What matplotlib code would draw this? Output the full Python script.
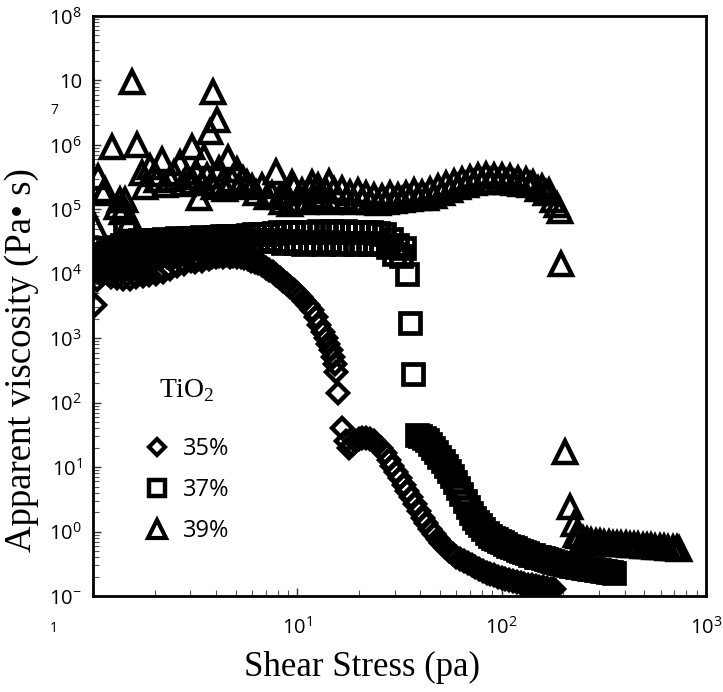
import matplotlib
matplotlib.use("Agg")
import matplotlib.pyplot as plt
from matplotlib.lines import Line2D
from matplotlib.font_manager import FontProperties
from matplotlib.ticker import LogLocator, NullFormatter

# ---------------- data ----------------
# 35 % TiO2 (diamonds)
x35 = [1.02, 1.05, 1.08, 1.11, 1.15, 1.19, 1.23, 1.27, 1.31, 1.36, 1.41, 1.46, 1.51, 1.57,
       1.63, 1.69, 1.75, 1.82, 1.89, 1.96, 2.04, 2.12, 2.20, 2.29, 2.38, 2.48, 2.58, 2.68,
       2.79, 2.90, 3.02, 3.14, 3.27, 3.40, 3.54, 3.68, 3.83, 3.99, 4.15, 4.32, 4.50, 4.68,
       4.87, 5.07, 5.28, 5.49, 5.72, 5.95, 6.19, 6.45, 6.71, 6.99, 7.27, 7.57, 7.88, 8.20,
       8.54, 8.89, 9.25, 9.63, 10.0, 10.4, 10.8, 11.3, 11.8, 12.3, 12.8, 13.3, 13.8, 14.2,
       14.6, 15.0, 15.3, 15.5, 15.8, 16.6, 17.3,
       17.9, 18.5, 19.2, 20.0, 20.8, 21.7, 22.6, 23.6, 24.6, 25.7, 26.8, 28.0, 29.2, 30.5,
       31.8, 33.2, 34.6, 36.1, 37.7, 39.3, 41.0, 42.8, 44.7, 46.6, 48.6, 50.7, 52.9, 55.2,
       57.6, 60.1, 62.7, 65.4, 68.3, 71.2, 74.3, 77.5, 80.9, 84.4, 88.1, 91.9, 95.9, 100,
       104, 109, 114, 119, 124, 129, 135, 141, 147, 153, 160, 167, 174, 181]
y35 = [3.3e3, 8.0e3, 1.1e4, 9.5e3, 1.2e4, 1.0e4, 9.0e3, 1.1e4, 8.5e3, 1.4e4, 8.2e3, 1.5e4,
       8.4e3, 1.5e4, 9.0e3, 1.6e4, 9.2e3, 1.6e4, 9.5e3, 1.7e4, 1.0e4, 1.7e4, 1.05e4, 1.8e4,
       1.2e4, 1.8e4, 1.3e4, 1.9e4, 1.4e4, 1.9e4, 1.6e4, 1.5e4, 1.7e4, 1.6e4, 1.8e4, 1.7e4,
       1.85e4, 1.8e4, 1.9e4, 1.8e4, 1.95e4, 1.85e4, 1.9e4, 1.8e4, 1.85e4, 1.75e4, 1.7e4,
       1.6e4, 1.55e4, 1.45e4, 1.35e4, 1.25e4, 1.15e4, 1.05e4, 9.5e3, 8.6e3, 7.8e3, 7.0e3,
       6.3e3, 5.6e3, 5.0e3, 4.4e3, 3.8e3, 3.3e3, 2.7e3, 2.1e3, 1.6e3, 1.25e3, 1.0e3, 800,
       650, 520, 400, 300, 140, 40, 25,
       20, 22, 25, 27, 28, 28, 27, 25, 22, 19.5, 16.5, 13, 10.5, 8.5,
       6.8, 5.3, 4.2, 3.4, 2.7, 2.1, 1.65, 1.35, 1.1, 0.92, 0.78, 0.66, 0.57, 0.5,
       0.45, 0.41, 0.38, 0.35, 0.32, 0.30, 0.28, 0.26, 0.245, 0.23, 0.22, 0.21, 0.2, 0.19,
       0.183, 0.176, 0.17, 0.165, 0.16, 0.155, 0.15, 0.146, 0.142, 0.139, 0.136, 0.133, 0.13, 0.128]

# 37 % TiO2 (squares)
x37 = [1.02, 1.04, 1.06, 1.08, 1.10, 1.13, 1.16, 1.19, 1.22, 1.25, 1.28, 1.31, 1.34, 1.38,
       1.43, 1.46, 1.50, 1.55, 1.60, 1.65, 1.70, 1.76, 1.82, 1.88, 1.94, 2.01, 2.08, 2.15,
       2.23, 2.31, 2.39, 2.48, 2.57, 2.66, 2.76, 2.86, 2.96, 3.07, 3.18, 3.30, 3.42, 3.55,
       3.68, 3.82, 3.96, 4.11, 4.26, 4.42, 4.58, 4.75, 4.93, 5.11, 5.30, 5.50, 5.71, 5.92,
       6.14, 6.37, 6.61, 6.86, 7.11, 7.38, 7.65, 7.94, 8.24, 8.55, 8.87, 9.20, 9.54, 9.90,
       10.3, 10.7, 11.1, 11.5, 11.9, 12.3, 12.8, 13.3, 13.8, 14.3, 14.8, 15.4, 15.9, 16.5,
       17.2, 17.8, 18.5, 19.2, 19.9, 20.6, 21.4, 22.2, 23.0, 23.9, 24.8, 25.7, 26.7, 27.7,
       28.7, 29.8, 30.9, 32.0, 33.2, 34.4, 35.6, 37.0,
       38.5, 40.0, 41.5, 43.0, 44.6, 46.2, 47.9, 49.6, 51.4, 53.2, 55.1, 57.1, 59.2, 61.3,
       63.5, 65.8, 68.2, 70.6, 73.2, 75.8, 78.5, 81.3, 84.3, 87.3, 90.4, 93.7, 97.0, 100.5,
       104, 108, 112, 116, 120, 124, 129, 133, 138, 143, 148, 153, 159, 165, 170, 177, 183,
       190, 196, 203, 211, 218, 226, 234, 242, 251, 260, 269, 279, 289, 299, 310, 321, 332,
       344, 356]
y37 = [1.2e4, 1.5e4, 1.1e4, 1.8e4, 1.4e4, 2.0e4, 1.6e4, 2.2e4, 1.8e4, 2.5e4, 2.0e4, 2.6e4,
       2.2e4, 2.8e4, 4.6e4, 2.4e4, 3.0e4, 2.6e4, 3.2e4, 2.7e4, 3.3e4, 2.8e4, 3.4e4, 2.9e4,
       3.3e4, 2.9e4, 3.4e4, 3.0e4, 3.5e4, 3.0e4, 3.4e4, 3.1e4, 3.6e4, 3.1e4, 3.5e4, 3.2e4,
       3.6e4, 3.2e4, 3.6e4, 3.3e4, 3.7e4, 3.3e4, 3.6e4, 3.4e4, 3.7e4, 3.4e4, 3.8e4, 3.5e4,
       3.8e4, 3.5e4, 3.9e4, 3.0e4, 3.9e4, 3.2e4, 4.0e4, 3.1e4, 4.1e4, 3.3e4, 4.2e4, 3.2e4,
       4.2e4, 3.4e4, 4.3e4, 3.2e4, 4.4e4, 3.0e4, 4.4e4, 3.2e4, 4.5e4, 3.0e4, 4.4e4, 2.9e4,
       4.5e4, 3.1e4, 4.5e4, 3.0e4, 4.6e4, 2.9e4, 4.5e4, 3.1e4, 4.6e4, 3.0e4, 4.5e4, 2.9e4,
       4.6e4, 3.0e4, 4.5e4, 2.9e4, 4.4e4, 3.0e4, 4.5e4, 2.9e4, 4.4e4, 3.0e4, 4.3e4, 2.9e4,
       4.1e4, 2.6e4, 3.5e4, 2.0e4, 2.8e4, 1.9e4, 2.5e4, 1.0e4, 1.75e3, 2.8e2,
       32, 30, 28, 26, 23, 20, 17, 14.5, 12.5, 10.5, 8.8, 7.2, 5.8, 4.7,
       3.8, 3.0, 2.4, 1.95, 1.6, 1.4, 1.25, 1.1, 0.95, 0.86, 0.8, 0.76, 0.72, 0.68,
       0.64, 0.6, 0.57, 0.55, 0.52, 0.5, 0.48, 0.46, 0.44, 0.43, 0.41, 0.40, 0.39, 0.375,
       0.36, 0.35, 0.34, 0.33, 0.32, 0.31, 0.30, 0.295, 0.29, 0.285, 0.28, 0.275, 0.27,
       0.265, 0.26, 0.255, 0.25, 0.245, 0.24, 0.235, 0.232, 0.23]

# 39 % TiO2 (triangles)
x39 = [1.02, 1.06, 1.12, 1.14, 1.24, 1.31, 1.35, 1.39, 1.43, 1.52, 1.55, 1.64, 1.73, 1.8,
       1.9, 2.0, 2.05, 2.17, 2.25, 2.37, 2.5, 2.66, 2.75, 2.87, 3.04, 3.07, 3.2, 3.3, 3.4,
       3.5, 3.6, 3.72, 3.85, 3.9, 4.03, 4.15, 4.3, 4.45, 4.6, 4.8, 5.04, 5.2, 5.4, 5.7,
       6.0, 6.3, 6.7, 7.1, 7.5, 7.9, 8.2,
       8.4, 8.8, 9.2, 9.45, 9.6, 10.0, 10.5, 11.0, 11.5, 11.8, 12.0, 12.6, 12.8, 13.2, 13.8,
       14.3, 14.4, 15.1, 15.8, 16.5, 17.3, 18.1, 18.9, 19.8, 20.7, 21.7, 22.7, 23.7, 24.8,
       26.0, 27.2, 28.4, 29.7, 31.1, 32.5, 34.0, 35.6, 37.2, 38.9, 40.7, 42.6, 44.6, 46.6,
       48.8, 51.0, 53.4, 55.8, 58.4, 61.1, 63.9, 66.8, 69.9, 73.1, 76.5, 80.0, 83.7, 87.5,
       91.5, 95.8, 100, 105, 110, 115, 120, 125, 131, 137, 143, 150, 157, 164, 171, 179,
       187, 193, 196, 205, 217, 225, 232,
       240, 250, 262, 275, 289, 303, 318, 334, 350, 367, 385, 404, 424, 445, 467, 490, 514,
       539, 566, 594, 623, 654, 686, 720, 740]
y39 = [5.3e4, 3.2e5, 1.8e5, 2.0e5, 9.3e5, 1.09e5, 1.4e5, 9.1e4, 1.4e5, 6.8e4, 9.5e6, 9.9e5,
       3.7e5, 2.2e5, 4.5e5, 3.5e5, 2.85e5, 5.8e5, 2.4e5, 3.0e5, 3.6e5, 5.2e5, 2.5e5, 3.2e5,
       9.3e5, 2.7e5, 3.8e5, 1.5e5, 2.6e5, 6.5e5, 3.3e5, 1.6e6, 6.6e6, 2.2e5, 2.4e6, 4.2e5,
       2.6e5, 2.1e5, 6.2e5, 2.9e5, 4.1e5, 2.3e5, 3.0e5, 2.6e5, 2.2e5, 1.8e5, 2.3e5, 1.55e5,
       1.7e5, 3.8e5, 1.55e5,
       1.3e5, 1.8e5, 1.2e5, 2.6e5, 2.2e5, 1.4e5, 1.9e5, 1.3e5, 2.0e5, 2.6e5, 1.5e5, 2.3e5,
       1.6e5, 1.4e5, 1.9e5, 2.7e5, 1.3e5, 2.0e5, 1.5e5, 2.1e5, 1.4e5, 1.8e5, 1.3e5, 1.9e5,
       1.4e5, 1.7e5, 1.3e5, 1.6e5, 1.25e5, 1.55e5, 1.3e5, 1.7e5, 1.35e5, 1.6e5, 1.4e5,
       1.75e5, 1.45e5, 1.9e5, 1.5e5, 1.8e5, 1.5e5, 2.0e5, 1.6e5, 2.2e5, 1.8e5, 2.5e5, 2.0e5,
       2.7e5, 2.2e5, 2.9e5, 2.4e5, 3.1e5, 2.6e5, 3.3e5, 2.7e5, 3.4e5, 2.8e5, 3.3e5, 2.7e5,
       3.3e5, 2.7e5, 3.2e5, 2.6e5, 3.0e5, 2.5e5, 2.9e5, 2.4e5, 2.6e5, 2.1e5, 2.2e5, 1.8e5,
       1.9e5, 1.4e5, 1.15e5, 9.5e4, 1.4e4, 17, 2.4, 1.3, 0.9,
       0.85, 0.78, 0.74, 0.71, 0.69, 0.68, 0.67, 0.66, 0.65, 0.645, 0.64, 0.63, 0.62, 0.615,
       0.61, 0.60, 0.595, 0.59, 0.58, 0.575, 0.57, 0.56, 0.555, 0.55, 0.545]

series_labels = ["35%", "37%", "39%"]
legend_title = "TiO$_\\mathregular{2}$"
x_label = "Shear Stress (pa)"
y_label = "Apparent viscosity (Pa\u2022 s)"
x_major = [1, 10, 100, 1000]
x_major_labels = ["", "$\\mathregular{10^{1}}$", "$\\mathregular{10^{2}}$", "$\\mathregular{10^{3}}$"]
y_major = [1e-1, 1e0, 1e1, 1e2, 1e3, 1e4, 1e5, 1e6, 1e7, 1e8]
y_major_labels = ["$\\mathregular{10^{-}}$", "$\\mathregular{10^{0}}$", "$\\mathregular{10^{1}}$",
                  "$\\mathregular{10^{2}}$", "$\\mathregular{10^{3}}$", "$\\mathregular{10^{4}}$",
                  "$\\mathregular{10^{5}}$", "$\\mathregular{10^{6}}$", "10",
                  "$\\mathregular{10^{8}}$"]

# ---------------- figure ----------------
W, H = 723, 692
fig = plt.figure(figsize=(W / 100, H / 100), dpi=100)
ax = fig.add_axes([93 / W, 1 - 596 / H, (706 - 93) / W, (596 - 16) / H])
ax.set_xscale("log")
ax.set_yscale("log")
ax.set_xlim(1, 1000)
ax.set_ylim(1e-1, 1e8)

mk = dict(ls="none", mfc="none", mec="black")
ax.plot(x35, y35, marker="D", ms=10, mew=3.2, **mk)
ax.plot(x37, y37, marker="s", ms=14.5, mew=3.4, **mk)
ax.plot(x39, y39, marker="^", ms=15.5, mew=3.2, **mk)

tick_font = FontProperties(family="Open Sans", size=14.5)
ax.set_xticks(x_major, x_major_labels)
ax.set_yticks(y_major, y_major_labels)
for lab in ax.get_xticklabels() + ax.get_yticklabels():
    lab.set_fontproperties(tick_font)
ax.yaxis.set_minor_locator(LogLocator(base=10, subs=range(2, 10), numticks=20))
ax.xaxis.set_minor_locator(LogLocator(base=10, subs=range(2, 10), numticks=20))
ax.xaxis.set_minor_formatter(NullFormatter())
ax.yaxis.set_minor_formatter(NullFormatter())
ax.tick_params(which="major", direction="in", length=6, width=1.0, color="#333333")
ax.tick_params(which="minor", direction="in", length=4, width=0.8, color="#555555")
ax.tick_params(axis="x", which="major", pad=15)
ax.tick_params(axis="y", which="major", pad=8)
for s in ax.spines.values():
    s.set_linewidth(2.0)

# broken-line pieces of two tick labels
fig.text(54 / W, 1 - 111 / H, "7", fontproperties=FontProperties(family="Open Sans", size=10),
         ha="center", va="center")
fig.text(54 / W, 1 - 628 / H, "1", fontproperties=FontProperties(family="Open Sans", size=10),
         ha="center", va="center")

serif = "Liberation Serif"
ax.set_xlabel(x_label, fontfamily=serif, fontsize=25)
ax.xaxis.set_label_coords((362 - 93) / 613, (596 - 651) / 580)
ax.set_ylabel(y_label, fontfamily=[serif, "DejaVu Sans"], fontsize=26.5)
ax.yaxis.set_label_coords((39 - 93) / 613, (596 - 360) / 580)

handles = [Line2D([], [], marker="D", ms=8.5, mew=3.0, **mk),
           Line2D([], [], marker="s", ms=12, mew=3.2, **mk),
           Line2D([], [], marker="^", ms=13, mew=3.0, **mk)]
leg = ax.legend(handles, series_labels, loc="upper left",
                bbox_to_anchor=((145 - 93) / 613, (596 - 377) / 580),
                frameon=False, title=legend_title,
                prop=FontProperties(family="Open Sans", size=17),
                title_fontproperties=FontProperties(family=serif, size=20),
                handlelength=1.0, handletextpad=0.6, labelspacing=0.72, borderpad=0,
                borderaxespad=0)
leg._legend_box.sep = 24

fig.savefig("out.png", dpi=100)
